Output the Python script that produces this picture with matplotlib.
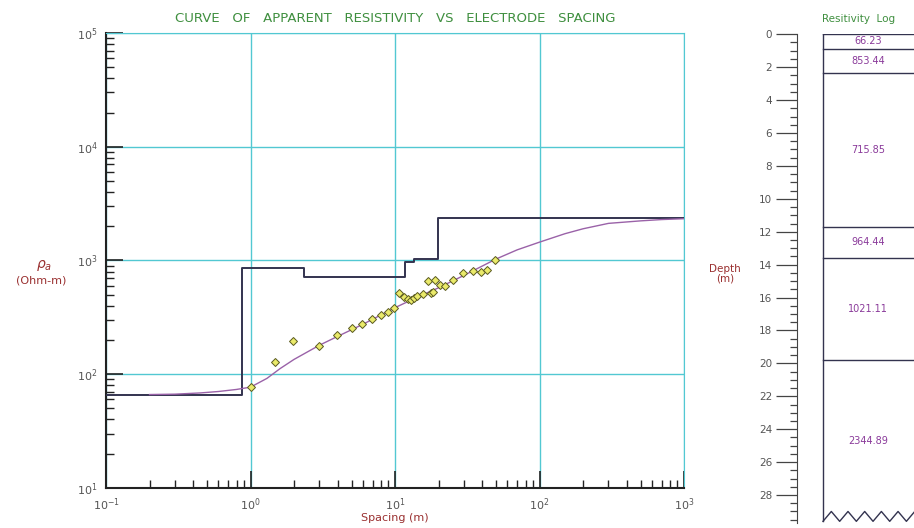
import numpy as np
import matplotlib
matplotlib.use("Agg")
import matplotlib.pyplot as plt
from matplotlib.ticker import LogLocator, MultipleLocator, NullFormatter

# layered model
layer_rho = [66.23, 853.44, 715.85, 964.44, 1021.11, 2344.89]
layer_bottom = [0.87, 2.34, 11.7, 13.6, 19.8]   # depth of each interface, m
log_base = 29.6

# field data: spacing (m), apparent resistivity (ohm-m)
obs_ab = [1.0, 1.48, 1.96, 2.98, 3.95, 5.0, 5.94, 6.97, 8.0, 8.9, 9.9,
          10.7, 11.5, 12.2, 12.8, 13.5, 14.1, 15.5, 16.8, 17.6, 18.4, 18.9,
          20.5, 22.2, 25.2, 29.5, 34.6, 39.6, 43.0, 49.3]
obs_rho = [77, 129, 197, 178, 221, 253, 277, 306, 332, 355, 385,
           513, 474, 460, 450, 468, 487, 505, 661, 520, 525, 676,
           610, 597, 676, 771, 813, 795, 832, 1000]

# computed model curve
fit_ab = [0.2, 0.3, 0.45, 0.6, 0.8, 1.0, 1.3, 1.6, 2.0, 3.0, 4.0, 6.0,
          10, 15, 20, 30, 50, 70, 100, 150, 200, 300, 500, 700, 1000]
fit_rho = [66.3, 66.8, 68.5, 70.5, 73.5, 77, 92, 112, 135, 180, 215, 275,
           385, 490, 575, 740, 1030, 1240, 1450, 1720, 1900, 2120, 2230, 2290, 2330]

green = "#3f8f3f"
dred = "#9a3030"
grid_c = "#52c8d2"
step_c = "#33334f"
purple = "#9a62a8"

fig = plt.figure(figsize=(9.14, 5.28), dpi=100)

ax = fig.add_axes([0.116, 0.0758, 0.6324, 0.8617])
ax.set_xscale("log")
ax.set_yscale("log")
ax.set_xlim(0.1, 1000)
ax.set_ylim(10, 1e5)

# step function of the layered model
edges = [0.1] + layer_bottom + [1000]
sx, sy = [], []
for i, r in enumerate(layer_rho):
    sx += [edges[i], edges[i + 1]]
    sy += [r, r]
ax.plot(sx, sy, color=step_c, lw=1.4, zorder=3)
ax.plot(fit_ab, fit_rho, color=purple, lw=1.0, zorder=4)
ax.plot(obs_ab, obs_rho, ls="none", marker="D", ms=4, mfc="#eaea6a",
        mec="#5a5a20", mew=0.7, zorder=5)

ax.grid(True, which="major", color=grid_c, lw=1.0)
ax.xaxis.set_minor_locator(LogLocator(base=10, subs=np.arange(2, 10)))
ax.yaxis.set_minor_locator(LogLocator(base=10, subs=np.arange(2, 10)))
ax.xaxis.set_minor_formatter(NullFormatter())
ax.yaxis.set_minor_formatter(NullFormatter())
ax.tick_params(which="major", direction="in", length=12, width=1.2,
               labelsize=8, colors="#222222", labelcolor="#555555", pad=6)
ax.tick_params(which="minor", direction="in", length=6, width=1.0, colors="#222222")
for s in ["left", "bottom"]:
    ax.spines[s].set_color("#222222")
    ax.spines[s].set_linewidth(1.5)
for s in ["top", "right"]:
    ax.spines[s].set_color(grid_c)

ax.set_title("CURVE   OF   APPARENT   RESISTIVITY   VS   ELECTRODE   SPACING",
             color=green, fontsize=9.5, pad=8)
ax.set_xlabel("Spacing (m)", color=dred, fontsize=8, labelpad=0)
fig.text(0.048, 0.497, "$\\rho_a$", color=dred, fontsize=10,
         ha="center", va="center")
fig.text(0.045, 0.468, "(Ohm-m)", color=dred, fontsize=8,
         ha="center", va="center")

# resistivity log
ax2 = fig.add_axes([0.872, 0.0095, 0.128, 0.9256])
ax2.set_xlim(0, 1)
ax2.set_ylim(29.7, 0)
for s in ["top", "right", "bottom"]:
    ax2.spines[s].set_visible(False)
ax2.spines["left"].set_color("#444444")
ax2.set_xticks([])
ax2.yaxis.set_minor_locator(MultipleLocator(0.5))
ax2.set_yticks(np.arange(0, 29, 2))
ax2.tick_params(axis="y", which="major", length=15, width=0.9,
                colors="#444444", labelsize=7.5, labelcolor="#555555", pad=3)
ax2.tick_params(axis="y", which="minor", length=5, width=0.9, colors="#444444")

bx0 = 0.222
ax2.plot([bx0, bx0], [0, log_base], color=step_c, lw=1.0)
ax2.plot([bx0, 1.0], [0, 0], color=step_c, lw=1.0)
for d in layer_bottom:
    ax2.plot([bx0, 1.0], [d, d], color=step_c, lw=1.0)
tops = [0] + layer_bottom
bots = layer_bottom + [log_base]
for r, t, b in zip(layer_rho, tops, bots):
    ax2.text(0.61, (t + b) / 2, f"{r:.2f}", color="#8a3a9a", fontsize=7,
             ha="center", va="center")

# zigzag marking the open-ended bottom layer
zx = np.arange(bx0, 1.05, 0.0713)
zy = np.where(np.arange(len(zx)) % 2 == 0, log_base, log_base - 0.6)
ax2.plot(zx, zy, color=step_c, lw=1.0, clip_on=False)

ax2.set_title("Resitivity  Log", color=green, fontsize=7.5, pad=9, x=0.53)
fig.text(0.793, 0.482, "Depth\n(m)", color=dred, fontsize=7.5, ha="center",
         va="center", linespacing=0.95)

fig.savefig("out.png", dpi=100)
